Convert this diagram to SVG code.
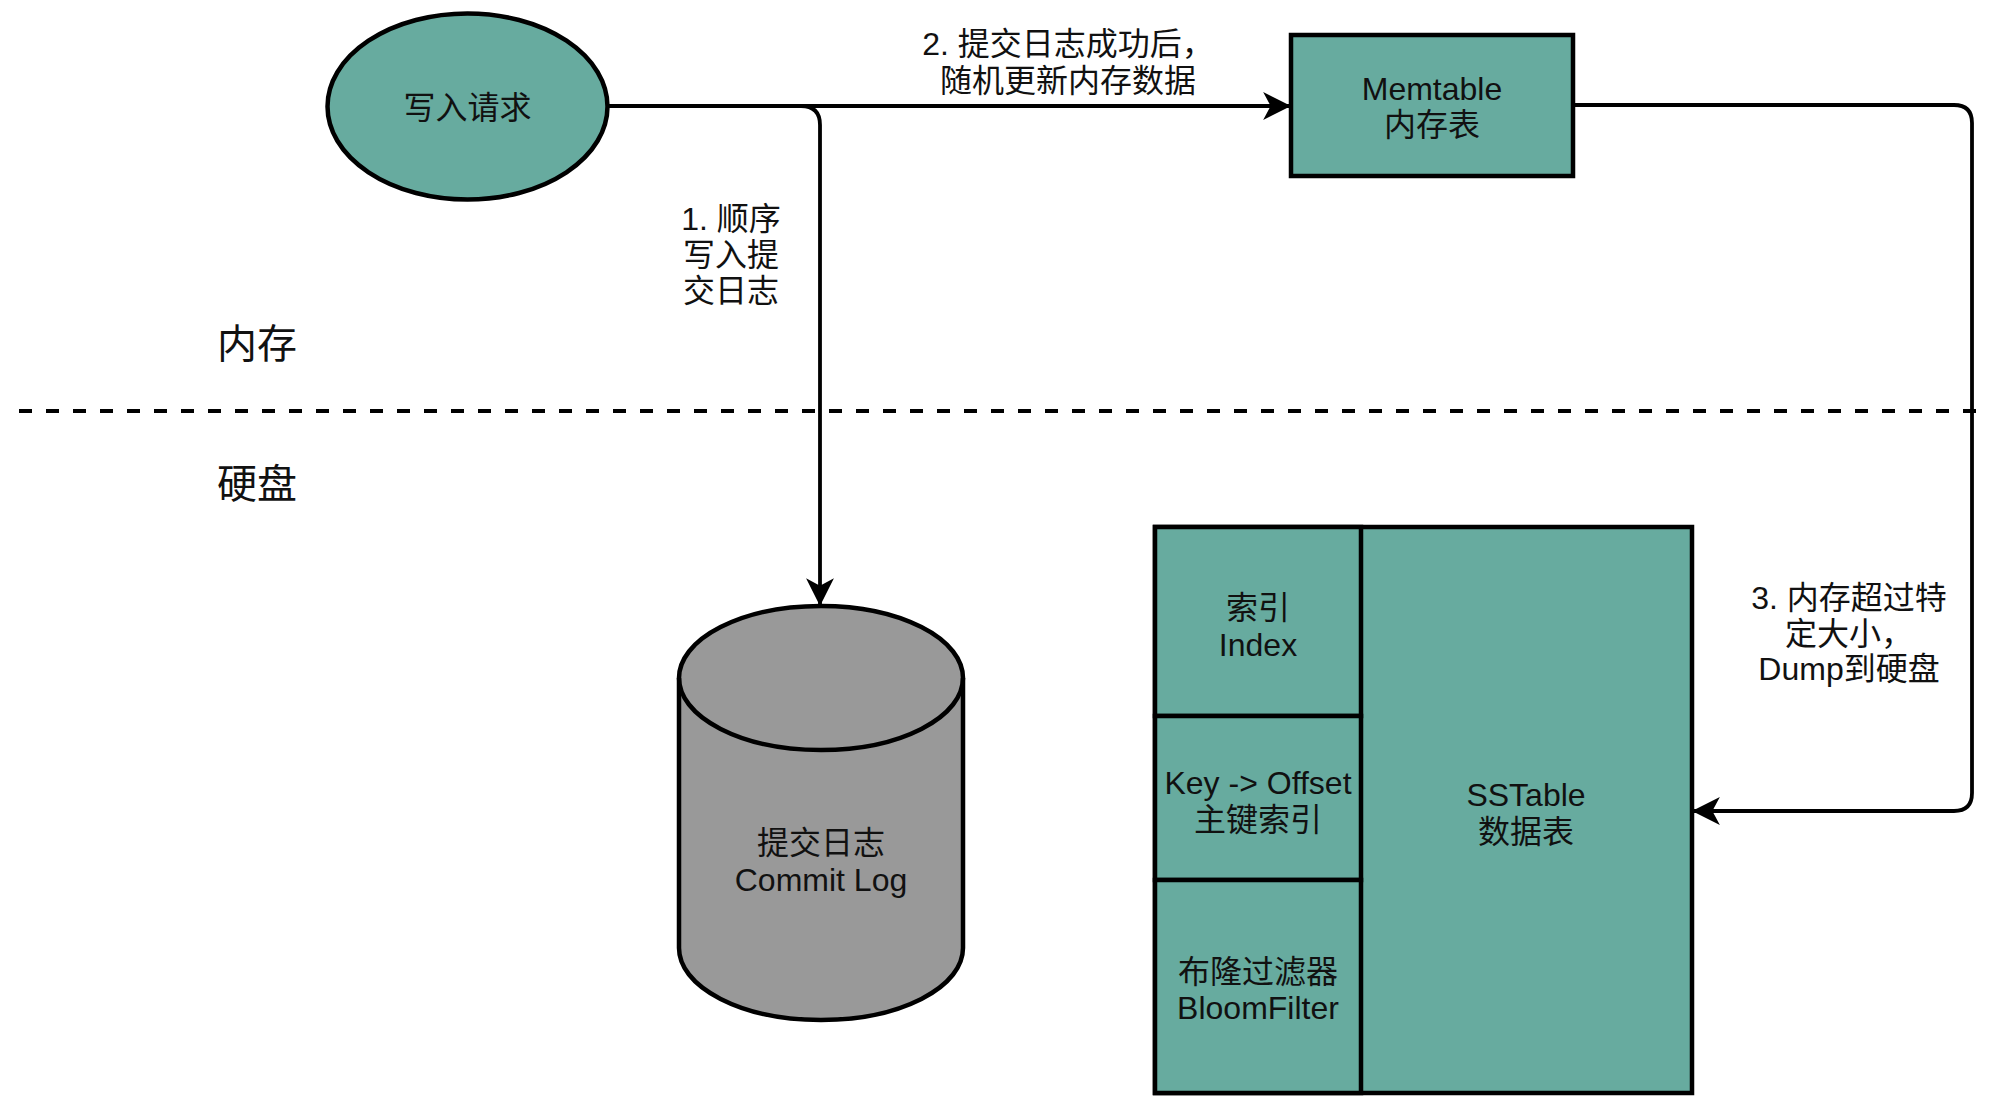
<svg xmlns="http://www.w3.org/2000/svg" width="2014" height="1112" viewBox="0 0 2014 1112">
<style>
.t{font-family:"Liberation Sans","Noto Sans CJK SC",sans-serif;font-size:32px;fill:#111;text-anchor:middle}
.big{font-size:40px}
.node{fill:#67AB9F;stroke:#000;stroke-width:4.5}
.cyl{fill:#999999;stroke:#000;stroke-width:4.5}
.edge{fill:none;stroke:#000;stroke-width:3.8}
</style>
<defs>
<marker id="arr" markerUnits="userSpaceOnUse" markerWidth="30" markerHeight="30" viewBox="-27 -14 28 28" refX="0" refY="0" orient="auto">
<path d="M0,0 L-26,-13 L-19,0 L-26,13 Z" fill="#000"/>
</marker>
</defs>
<rect width="2014" height="1112" fill="#fff"/>

<g id="divider">
<line x1="19" y1="411" x2="1986" y2="411" stroke="#000" stroke-width="4" stroke-dasharray="13 14"/>
<text class="t big" x="257" y="358">内存</text>
<text class="t big" x="257" y="498">硬盘</text>
</g>

<g id="connectors">
<path class="edge" d="M607,106 L801,106 Q820,106 820,125 L820,606" marker-end="url(#arr)"/>
<path class="edge" d="M607,106 L1291,106" marker-end="url(#arr)"/>
<path class="edge" d="M1573,105 L1954,105 Q1972,105 1972,123 L1972,793 Q1972,811 1954,811 L1692,811" marker-end="url(#arr)"/>
<text class="t" x="1068" y="55">2. 提交日志成功后，</text>
<text class="t" x="1068" y="92">随机更新内存数据</text>
<text class="t" x="731" y="230">1. 顺序</text>
<text class="t" x="731" y="266">写入提</text>
<text class="t" x="731" y="302">交日志</text>
<text class="t" x="1849" y="609">3. 内存超过特</text>
<text class="t" x="1849" y="645">定大小，</text>
<text class="t" x="1849" y="680">Dump到硬盘</text>
</g>

<g id="write-request">
<ellipse class="node" cx="467.5" cy="106.5" rx="140" ry="93"/>
<text class="t" x="467.5" y="119">写入请求</text>
</g>

<g id="memtable">
<rect class="node" x="1291" y="35" width="282" height="141"/>
<text class="t" x="1432" y="100">Memtable</text>
<text class="t" x="1432" y="136">内存表</text>
</g>

<g id="commit-log">
<path class="cyl" d="M679,678 A142,72 0 0 1 963,678 L963,948 A142,72 0 0 1 679,948 Z"/>
<path fill="none" stroke="#000" stroke-width="4.5" d="M679,678 A142,72 0 0 0 963,678"/>
<text class="t" x="821" y="854">提交日志</text>
<text class="t" x="821" y="891">Commit Log</text>
</g>

<g id="sstable">
<rect class="node" x="1155" y="527" width="537" height="566"/>
<text class="t" x="1526" y="806">SSTable</text>
<text class="t" x="1526" y="843">数据表</text>
</g>

<g id="index">
<rect class="node" x="1155" y="527" width="206" height="189"/>
<text class="t" x="1258" y="619">索引</text>
<text class="t" x="1258" y="656">Index</text>
</g>

<g id="key-offset">
<rect class="node" x="1155" y="716" width="206" height="164"/>
<text class="t" x="1258" y="794">Key -&gt; Offset</text>
<text class="t" x="1258" y="831">主键索引</text>
</g>

<g id="bloomfilter">
<rect class="node" x="1155" y="880" width="206" height="213"/>
<text class="t" x="1258" y="983">布隆过滤器</text>
<text class="t" x="1258" y="1019">BloomFilter</text>
</g>
</svg>
